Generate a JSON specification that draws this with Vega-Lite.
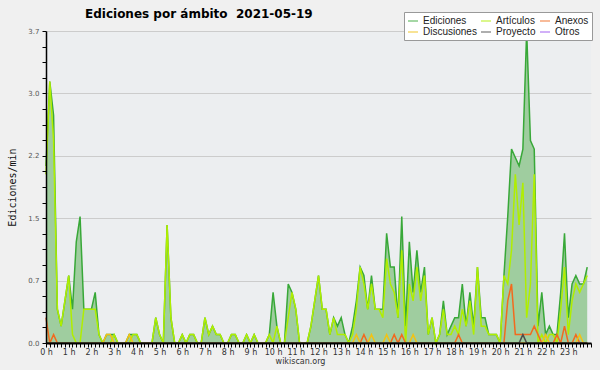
{
  "$schema": "https://vega.github.io/schema/vega-lite/v6.json",
  "width": 545,
  "height": 312,
  "autosize": {"type": "none"},
  "padding": {"left": 46, "top": 31, "right": 9, "bottom": 27},
  "background": "#f0f0f0",
  "title": {"text": "Ediciones por ámbito\u00a0 2021-05-19", "anchor": "start", "frame": "group", "dx": 39, "offset": -9, "font": "DejaVu Sans", "fontSize": 12, "fontWeight": "bold", "color": "#000000"},
  "data": {"values": [
    {"t":0,"Ediciones":2.1,"Artículos":2.0,"Anexos":0.3,"Discusiones":0,"Proyecto":0,"Otros":0},
    {"t":10,"Ediciones":3.1,"Artículos":3.1,"Anexos":0,"Discusiones":0,"Proyecto":0,"Otros":0},
    {"t":20,"Ediciones":2.7,"Artículos":2.4,"Anexos":0.1,"Discusiones":0,"Proyecto":0,"Otros":0},
    {"t":30,"Ediciones":0.4,"Artículos":0.4,"Anexos":0,"Discusiones":0,"Proyecto":0,"Otros":0},
    {"t":40,"Ediciones":0.2,"Artículos":0.2,"Anexos":0,"Discusiones":0,"Proyecto":0,"Otros":0},
    {"t":50,"Ediciones":0.5,"Artículos":0.5,"Anexos":0,"Discusiones":0,"Proyecto":0,"Otros":0},
    {"t":60,"Ediciones":0.8,"Artículos":0.8,"Anexos":0,"Discusiones":0,"Proyecto":0,"Otros":0},
    {"t":70,"Ediciones":0.4,"Artículos":0.1,"Anexos":0,"Discusiones":0,"Proyecto":0,"Otros":0},
    {"t":80,"Ediciones":1.2,"Artículos":0,"Anexos":0,"Discusiones":0,"Proyecto":0,"Otros":0},
    {"t":90,"Ediciones":1.5,"Artículos":0,"Anexos":0,"Discusiones":0,"Proyecto":0,"Otros":0},
    {"t":100,"Ediciones":0.4,"Artículos":0.4,"Anexos":0,"Discusiones":0,"Proyecto":0,"Otros":0},
    {"t":110,"Ediciones":0.4,"Artículos":0.4,"Anexos":0,"Discusiones":0,"Proyecto":0,"Otros":0},
    {"t":120,"Ediciones":0.4,"Artículos":0.4,"Anexos":0,"Discusiones":0,"Proyecto":0,"Otros":0},
    {"t":130,"Ediciones":0.6,"Artículos":0.4,"Anexos":0,"Discusiones":0,"Proyecto":0,"Otros":0},
    {"t":140,"Ediciones":0.1,"Artículos":0.1,"Anexos":0,"Discusiones":0,"Proyecto":0,"Otros":0},
    {"t":150,"Ediciones":0,"Artículos":0,"Anexos":0,"Discusiones":0,"Proyecto":0,"Otros":0},
    {"t":160,"Ediciones":0.1,"Artículos":0,"Anexos":0,"Discusiones":0.1,"Proyecto":0,"Otros":0},
    {"t":170,"Ediciones":0.1,"Artículos":0,"Anexos":0,"Discusiones":0.1,"Proyecto":0,"Otros":0},
    {"t":180,"Ediciones":0.1,"Artículos":0.1,"Anexos":0,"Discusiones":0,"Proyecto":0,"Otros":0},
    {"t":190,"Ediciones":0,"Artículos":0,"Anexos":0,"Discusiones":0,"Proyecto":0,"Otros":0},
    {"t":200,"Ediciones":0,"Artículos":0,"Anexos":0,"Discusiones":0,"Proyecto":0,"Otros":0},
    {"t":210,"Ediciones":0,"Artículos":0,"Anexos":0,"Discusiones":0,"Proyecto":0,"Otros":0},
    {"t":220,"Ediciones":0.1,"Artículos":0,"Anexos":0,"Discusiones":0.1,"Proyecto":0,"Otros":0},
    {"t":230,"Ediciones":0.1,"Artículos":0.1,"Anexos":0,"Discusiones":0,"Proyecto":0,"Otros":0},
    {"t":240,"Ediciones":0.1,"Artículos":0.1,"Anexos":0,"Discusiones":0,"Proyecto":0,"Otros":0},
    {"t":250,"Ediciones":0,"Artículos":0,"Anexos":0,"Discusiones":0,"Proyecto":0,"Otros":0},
    {"t":260,"Ediciones":0,"Artículos":0,"Anexos":0,"Discusiones":0,"Proyecto":0,"Otros":0},
    {"t":270,"Ediciones":0,"Artículos":0,"Anexos":0,"Discusiones":0,"Proyecto":0,"Otros":0},
    {"t":280,"Ediciones":0,"Artículos":0,"Anexos":0,"Discusiones":0,"Proyecto":0,"Otros":0},
    {"t":290,"Ediciones":0.3,"Artículos":0.3,"Anexos":0,"Discusiones":0,"Proyecto":0,"Otros":0},
    {"t":300,"Ediciones":0.1,"Artículos":0.1,"Anexos":0,"Discusiones":0,"Proyecto":0,"Otros":0},
    {"t":310,"Ediciones":0,"Artículos":0,"Anexos":0,"Discusiones":0,"Proyecto":0,"Otros":0},
    {"t":320,"Ediciones":1.4,"Artículos":1.4,"Anexos":0,"Discusiones":0,"Proyecto":0,"Otros":0},
    {"t":330,"Ediciones":0.3,"Artículos":0.3,"Anexos":0,"Discusiones":0,"Proyecto":0,"Otros":0},
    {"t":340,"Ediciones":0,"Artículos":0,"Anexos":0,"Discusiones":0,"Proyecto":0,"Otros":0},
    {"t":350,"Ediciones":0,"Artículos":0,"Anexos":0,"Discusiones":0,"Proyecto":0,"Otros":0},
    {"t":360,"Ediciones":0.1,"Artículos":0.1,"Anexos":0,"Discusiones":0,"Proyecto":0,"Otros":0},
    {"t":370,"Ediciones":0,"Artículos":0,"Anexos":0,"Discusiones":0,"Proyecto":0,"Otros":0},
    {"t":380,"Ediciones":0.1,"Artículos":0.1,"Anexos":0,"Discusiones":0,"Proyecto":0,"Otros":0},
    {"t":390,"Ediciones":0.1,"Artículos":0.1,"Anexos":0,"Discusiones":0,"Proyecto":0,"Otros":0},
    {"t":400,"Ediciones":0,"Artículos":0,"Anexos":0,"Discusiones":0,"Proyecto":0,"Otros":0},
    {"t":410,"Ediciones":0,"Artículos":0,"Anexos":0,"Discusiones":0,"Proyecto":0,"Otros":0},
    {"t":420,"Ediciones":0.3,"Artículos":0.3,"Anexos":0,"Discusiones":0,"Proyecto":0,"Otros":0},
    {"t":430,"Ediciones":0.1,"Artículos":0.1,"Anexos":0,"Discusiones":0,"Proyecto":0,"Otros":0},
    {"t":440,"Ediciones":0.2,"Artículos":0.2,"Anexos":0,"Discusiones":0,"Proyecto":0,"Otros":0},
    {"t":450,"Ediciones":0.1,"Artículos":0.1,"Anexos":0,"Discusiones":0,"Proyecto":0,"Otros":0},
    {"t":460,"Ediciones":0.1,"Artículos":0.1,"Anexos":0,"Discusiones":0,"Proyecto":0,"Otros":0},
    {"t":470,"Ediciones":0,"Artículos":0,"Anexos":0,"Discusiones":0,"Proyecto":0,"Otros":0},
    {"t":480,"Ediciones":0,"Artículos":0,"Anexos":0,"Discusiones":0,"Proyecto":0,"Otros":0},
    {"t":490,"Ediciones":0.1,"Artículos":0.1,"Anexos":0,"Discusiones":0,"Proyecto":0,"Otros":0},
    {"t":500,"Ediciones":0.1,"Artículos":0.1,"Anexos":0,"Discusiones":0,"Proyecto":0,"Otros":0},
    {"t":510,"Ediciones":0,"Artículos":0,"Anexos":0,"Discusiones":0,"Proyecto":0,"Otros":0},
    {"t":520,"Ediciones":0,"Artículos":0,"Anexos":0,"Discusiones":0,"Proyecto":0,"Otros":0},
    {"t":530,"Ediciones":0.1,"Artículos":0.1,"Anexos":0,"Discusiones":0,"Proyecto":0,"Otros":0},
    {"t":540,"Ediciones":0,"Artículos":0,"Anexos":0,"Discusiones":0,"Proyecto":0,"Otros":0},
    {"t":550,"Ediciones":0.1,"Artículos":0.1,"Anexos":0,"Discusiones":0,"Proyecto":0,"Otros":0},
    {"t":560,"Ediciones":0,"Artículos":0,"Anexos":0,"Discusiones":0,"Proyecto":0,"Otros":0},
    {"t":570,"Ediciones":0,"Artículos":0,"Anexos":0,"Discusiones":0,"Proyecto":0,"Otros":0},
    {"t":580,"Ediciones":0,"Artículos":0,"Anexos":0,"Discusiones":0,"Proyecto":0,"Otros":0},
    {"t":590,"Ediciones":0.1,"Artículos":0.1,"Anexos":0,"Discusiones":0,"Proyecto":0,"Otros":0},
    {"t":600,"Ediciones":0.6,"Artículos":0,"Anexos":0,"Discusiones":0,"Proyecto":0,"Otros":0},
    {"t":610,"Ediciones":0.2,"Artículos":0.2,"Anexos":0,"Discusiones":0,"Proyecto":0,"Otros":0},
    {"t":620,"Ediciones":0,"Artículos":0,"Anexos":0,"Discusiones":0,"Proyecto":0,"Otros":0},
    {"t":630,"Ediciones":0,"Artículos":0,"Anexos":0,"Discusiones":0,"Proyecto":0,"Otros":0},
    {"t":640,"Ediciones":0.7,"Artículos":0.3,"Anexos":0,"Discusiones":0,"Proyecto":0,"Otros":0},
    {"t":650,"Ediciones":0.6,"Artículos":0.6,"Anexos":0,"Discusiones":0,"Proyecto":0,"Otros":0},
    {"t":660,"Ediciones":0.4,"Artículos":0.4,"Anexos":0,"Discusiones":0,"Proyecto":0,"Otros":0},
    {"t":670,"Ediciones":0,"Artículos":0,"Anexos":0,"Discusiones":0,"Proyecto":0,"Otros":0},
    {"t":680,"Ediciones":0,"Artículos":0,"Anexos":0,"Discusiones":0,"Proyecto":0,"Otros":0},
    {"t":690,"Ediciones":0,"Artículos":0,"Anexos":0,"Discusiones":0,"Proyecto":0,"Otros":0},
    {"t":700,"Ediciones":0.2,"Artículos":0.2,"Anexos":0,"Discusiones":0,"Proyecto":0,"Otros":0},
    {"t":710,"Ediciones":0.5,"Artículos":0.5,"Anexos":0,"Discusiones":0,"Proyecto":0,"Otros":0},
    {"t":720,"Ediciones":0.8,"Artículos":0.8,"Anexos":0,"Discusiones":0,"Proyecto":0,"Otros":0},
    {"t":730,"Ediciones":0.4,"Artículos":0.4,"Anexos":0,"Discusiones":0,"Proyecto":0,"Otros":0},
    {"t":740,"Ediciones":0.4,"Artículos":0.4,"Anexos":0,"Discusiones":0,"Proyecto":0,"Otros":0},
    {"t":750,"Ediciones":0.1,"Artículos":0.1,"Anexos":0,"Discusiones":0,"Proyecto":0,"Otros":0},
    {"t":760,"Ediciones":0.3,"Artículos":0.3,"Anexos":0,"Discusiones":0,"Proyecto":0,"Otros":0},
    {"t":770,"Ediciones":0.2,"Artículos":0.1,"Anexos":0,"Discusiones":0,"Proyecto":0,"Otros":0},
    {"t":780,"Ediciones":0.3,"Artículos":0.1,"Anexos":0,"Discusiones":0,"Proyecto":0,"Otros":0},
    {"t":790,"Ediciones":0.1,"Artículos":0.1,"Anexos":0,"Discusiones":0,"Proyecto":0,"Otros":0},
    {"t":800,"Ediciones":0,"Artículos":0,"Anexos":0,"Discusiones":0,"Proyecto":0,"Otros":0},
    {"t":810,"Ediciones":0.2,"Artículos":0.1,"Anexos":0,"Discusiones":0,"Proyecto":0,"Otros":0},
    {"t":820,"Ediciones":0.5,"Artículos":0.4,"Anexos":0,"Discusiones":0.1,"Proyecto":0,"Otros":0},
    {"t":830,"Ediciones":0.9,"Artículos":0.9,"Anexos":0,"Discusiones":0,"Proyecto":0,"Otros":0},
    {"t":840,"Ediciones":0.8,"Artículos":0.7,"Anexos":0.1,"Discusiones":0,"Proyecto":0,"Otros":0},
    {"t":850,"Ediciones":0.4,"Artículos":0.4,"Anexos":0,"Discusiones":0,"Proyecto":0,"Otros":0},
    {"t":860,"Ediciones":0.8,"Artículos":0.7,"Anexos":0,"Discusiones":0.1,"Proyecto":0,"Otros":0},
    {"t":870,"Ediciones":0.4,"Artículos":0.4,"Anexos":0,"Discusiones":0,"Proyecto":0,"Otros":0},
    {"t":880,"Ediciones":0.4,"Artículos":0.4,"Anexos":0,"Discusiones":0,"Proyecto":0,"Otros":0},
    {"t":890,"Ediciones":0.4,"Artículos":0.3,"Anexos":0,"Discusiones":0,"Proyecto":0,"Otros":0},
    {"t":900,"Ediciones":1.3,"Artículos":1.0,"Anexos":0,"Discusiones":0.1,"Proyecto":0,"Otros":0},
    {"t":910,"Ediciones":0.9,"Artículos":0.7,"Anexos":0,"Discusiones":0,"Proyecto":0,"Otros":0},
    {"t":920,"Ediciones":0.9,"Artículos":0.6,"Anexos":0.1,"Discusiones":0,"Proyecto":0,"Otros":0},
    {"t":930,"Ediciones":0.3,"Artículos":0.3,"Anexos":0,"Discusiones":0,"Proyecto":0,"Otros":0},
    {"t":940,"Ediciones":1.5,"Artículos":1.1,"Anexos":0.1,"Discusiones":0,"Proyecto":0,"Otros":0},
    {"t":950,"Ediciones":0.2,"Artículos":0,"Anexos":0,"Discusiones":0,"Proyecto":0,"Otros":0},
    {"t":960,"Ediciones":1.2,"Artículos":0.7,"Anexos":0,"Discusiones":0,"Proyecto":0,"Otros":0},
    {"t":970,"Ediciones":0.6,"Artículos":0.5,"Anexos":0,"Discusiones":0.1,"Proyecto":0,"Otros":0},
    {"t":980,"Ediciones":1.1,"Artículos":0.9,"Anexos":0,"Discusiones":0,"Proyecto":0,"Otros":0},
    {"t":990,"Ediciones":0.6,"Artículos":0.5,"Anexos":0,"Discusiones":0,"Proyecto":0,"Otros":0},
    {"t":1000,"Ediciones":0.9,"Artículos":0.8,"Anexos":0,"Discusiones":0,"Proyecto":0,"Otros":0},
    {"t":1010,"Ediciones":0.1,"Artículos":0.1,"Anexos":0,"Discusiones":0,"Proyecto":0,"Otros":0},
    {"t":1020,"Ediciones":0.3,"Artículos":0.3,"Anexos":0,"Discusiones":0,"Proyecto":0,"Otros":0},
    {"t":1030,"Ediciones":0,"Artículos":0,"Anexos":0,"Discusiones":0,"Proyecto":0,"Otros":0},
    {"t":1040,"Ediciones":0.1,"Artículos":0.1,"Anexos":0,"Discusiones":0,"Proyecto":0,"Otros":0},
    {"t":1050,"Ediciones":0.5,"Artículos":0.4,"Anexos":0,"Discusiones":0,"Proyecto":0,"Otros":0},
    {"t":1060,"Ediciones":0.1,"Artículos":0.1,"Anexos":0,"Discusiones":0,"Proyecto":0,"Otros":0},
    {"t":1070,"Ediciones":0.2,"Artículos":0.1,"Anexos":0,"Discusiones":0,"Proyecto":0,"Otros":0},
    {"t":1080,"Ediciones":0.3,"Artículos":0.2,"Anexos":0,"Discusiones":0,"Proyecto":0,"Otros":0},
    {"t":1090,"Ediciones":0.3,"Artículos":0.1,"Anexos":0.1,"Discusiones":0,"Proyecto":0,"Otros":0},
    {"t":1100,"Ediciones":0.7,"Artículos":0.4,"Anexos":0,"Discusiones":0,"Proyecto":0,"Otros":0},
    {"t":1110,"Ediciones":0.2,"Artículos":0.2,"Anexos":0,"Discusiones":0,"Proyecto":0,"Otros":0},
    {"t":1120,"Ediciones":0.6,"Artículos":0.5,"Anexos":0,"Discusiones":0,"Proyecto":0,"Otros":0},
    {"t":1130,"Ediciones":0.2,"Artículos":0.1,"Anexos":0,"Discusiones":0,"Proyecto":0,"Otros":0},
    {"t":1140,"Ediciones":0.9,"Artículos":0.9,"Anexos":0,"Discusiones":0,"Proyecto":0,"Otros":0},
    {"t":1150,"Ediciones":0.3,"Artículos":0.2,"Anexos":0,"Discusiones":0,"Proyecto":0,"Otros":0},
    {"t":1160,"Ediciones":0.3,"Artículos":0.2,"Anexos":0,"Discusiones":0,"Proyecto":0,"Otros":0},
    {"t":1170,"Ediciones":0.1,"Artículos":0.1,"Anexos":0,"Discusiones":0,"Proyecto":0,"Otros":0},
    {"t":1180,"Ediciones":0.1,"Artículos":0.1,"Anexos":0,"Discusiones":0,"Proyecto":0,"Otros":0},
    {"t":1190,"Ediciones":0.1,"Artículos":0.1,"Anexos":0,"Discusiones":0,"Proyecto":0,"Otros":0},
    {"t":1200,"Ediciones":0,"Artículos":0,"Anexos":0,"Discusiones":0,"Proyecto":0,"Otros":0},
    {"t":1210,"Ediciones":0.8,"Artículos":0.8,"Anexos":0,"Discusiones":0,"Proyecto":0,"Otros":0},
    {"t":1220,"Ediciones":1.5,"Artículos":0.7,"Anexos":0.5,"Discusiones":0,"Proyecto":0,"Otros":0},
    {"t":1230,"Ediciones":2.3,"Artículos":1.1,"Anexos":0.7,"Discusiones":0,"Proyecto":0,"Otros":0},
    {"t":1240,"Ediciones":2.2,"Artículos":2.0,"Anexos":0.1,"Discusiones":0,"Proyecto":0,"Otros":0},
    {"t":1250,"Ediciones":2.1,"Artículos":1.4,"Anexos":0.1,"Discusiones":0,"Proyecto":0,"Otros":0},
    {"t":1260,"Ediciones":2.3,"Artículos":1.9,"Anexos":0.1,"Discusiones":0,"Proyecto":0.1,"Otros":0},
    {"t":1270,"Ediciones":3.7,"Artículos":0.3,"Anexos":0.1,"Discusiones":0,"Proyecto":0,"Otros":0},
    {"t":1280,"Ediciones":2.4,"Artículos":0.7,"Anexos":0.1,"Discusiones":0,"Proyecto":0,"Otros":0},
    {"t":1290,"Ediciones":2.3,"Artículos":2.0,"Anexos":0.2,"Discusiones":0,"Proyecto":0,"Otros":0},
    {"t":1300,"Ediciones":0.2,"Artículos":0,"Anexos":0.1,"Discusiones":0,"Proyecto":0,"Otros":0},
    {"t":1310,"Ediciones":0.6,"Artículos":0.1,"Anexos":0,"Discusiones":0,"Proyecto":0,"Otros":0},
    {"t":1320,"Ediciones":0.1,"Artículos":0,"Anexos":0,"Discusiones":0.1,"Proyecto":0,"Otros":0},
    {"t":1330,"Ediciones":0.2,"Artículos":0.1,"Anexos":0,"Discusiones":0,"Proyecto":0,"Otros":0},
    {"t":1340,"Ediciones":0.1,"Artículos":0.1,"Anexos":0,"Discusiones":0,"Proyecto":0,"Otros":0},
    {"t":1350,"Ediciones":0.1,"Artículos":0,"Anexos":0.1,"Discusiones":0,"Proyecto":0,"Otros":0},
    {"t":1360,"Ediciones":0.6,"Artículos":0.4,"Anexos":0,"Discusiones":0,"Proyecto":0,"Otros":0},
    {"t":1370,"Ediciones":1.3,"Artículos":0.9,"Anexos":0.2,"Discusiones":0,"Proyecto":0,"Otros":0},
    {"t":1380,"Ediciones":0.3,"Artículos":0.1,"Anexos":0,"Discusiones":0,"Proyecto":0,"Otros":0},
    {"t":1390,"Ediciones":0.7,"Artículos":0.5,"Anexos":0,"Discusiones":0,"Proyecto":0,"Otros":0},
    {"t":1400,"Ediciones":0.8,"Artículos":0.7,"Anexos":0.1,"Discusiones":0,"Proyecto":0,"Otros":0},
    {"t":1410,"Ediciones":0.7,"Artículos":0.6,"Anexos":0,"Discusiones":0.1,"Proyecto":0,"Otros":0},
    {"t":1420,"Ediciones":0.7,"Artículos":0.7,"Anexos":0,"Discusiones":0,"Proyecto":0,"Otros":0},
    {"t":1430,"Ediciones":0.9,"Artículos":0.8,"Anexos":0,"Discusiones":0,"Proyecto":0,"Otros":0}
  ]},
  "transform": [{"fold": ["Otros", "Ediciones", "Artículos", "Anexos", "Discusiones", "Proyecto"], "as": ["serie", "v"]}],
  "encoding": {
    "x": {
      "field": "t", "type": "quantitative",
      "scale": {"domain": [0, 1440], "nice": false, "zero": false},
      "axis": {
        "values": [0,10,20,30,40,50,60,70,80,90,100,110,120,130,140,150,160,170,180,190,200,210,220,230,240,250,260,270,280,290,300,310,320,330,340,350,360,370,380,390,400,410,420,430,440,450,460,470,480,490,500,510,520,530,540,550,560,570,580,590,600,610,620,630,640,650,660,670,680,690,700,710,720,730,740,750,760,770,780,790,800,810,820,830,840,850,860,870,880,890,900,910,920,930,940,950,960,970,980,990,1000,1010,1020,1030,1040,1050,1060,1070,1080,1090,1100,1110,1120,1130,1140,1150,1160,1170,1180,1190,1200,1210,1220,1230,1240,1250,1260,1270,1280,1290,1300,1310,1320,1330,1340,1350,1360,1370,1380,1390,1400,1410,1420,1430,1440],
        "labelExpr": "datum.value % 60 === 0 && datum.value < 1440 ? (datum.value / 60) + ' h' : ''",
        "labelAngle": 0, "labelOverlap": false, "labelFlush": false, "labelBound": false,
        "labelFont": "DejaVu Sans", "labelFontSize": 8, "labelColor": "#333333", "labelPadding": 1,
        "tickSize": 4, "tickColor": "#000000", "tickWidth": 1,
        "domainColor": "#000000", "domainWidth": 2,
        "grid": false,
        "title": "wikiscan.org", "titleFont": "DejaVu Sans", "titleFontSize": 8, "titleFontWeight": "normal", "titleColor": "#333333",
        "titleX": 254, "titleY": 20, "titleBaseline": "alphabetic", "titleAnchor": "middle",
        "zindex": 1
      }
    }
  },
  "layer": [
    {
      "transform": [{"filter": "datum.serie === 'Ediciones'"}],
      "mark": {"type": "area", "color": "#9fcd9f", "opacity": 1},
      "encoding": {
        "y": {
          "field": "v", "type": "quantitative",
          "scale": {"domain": [0, 3.7], "nice": false},
          "axis": {
            "orient": "left",
            "values": [0, 0.74, 1.48, 2.22, 2.96, 3.7],
            "grid": true, "gridColor": "#cccccc", "gridWidth": 1,
            "domain": false, "ticks": false, "labels": false, "title": null,
            "zindex": 0
          }
        }
      }
    },
    {
      "mark": {"type": "line", "strokeWidth": 1.5},
      "encoding": {
        "y": {
          "field": "v", "type": "quantitative",
          "scale": {"domain": [0, 3.7], "nice": false},
          "axis": {
            "orient": "left",
            "values": [0, 0.185, 0.37, 0.555, 0.74, 0.925, 1.11, 1.295, 1.48, 1.665, 1.85, 2.035, 2.22, 2.405, 2.59, 2.775, 2.96, 3.145, 3.33, 3.515, 3.7],
            "labelExpr": "abs(datum.value / 0.74 - round(datum.value / 0.74)) < 0.01 ? format(datum.value, '.1f') : ''",
            "labelFont": "DejaVu Sans", "labelFontSize": 7, "labelColor": "#555555", "labelPadding": 3, "labelOverlap": false, "labelBound": false, "labelFlush": false,
            "tickSize": 4, "tickColor": "#000000",
            "domainColor": "#000000", "domainWidth": 1.5,
            "grid": false,
            "title": "Ediciones/min", "titleFont": "DejaVu Sans Mono", "titleFontSize": 10, "titleFontWeight": "normal", "titleColor": "#111111", "titlePadding": 10,
            "zindex": 1
          }
        },
        "color": {
          "field": "serie", "type": "nominal",
          "scale": {"domain": ["Ediciones", "Artículos", "Anexos", "Discusiones", "Proyecto", "Otros"], "range": ["#38a838", "#b0ee00", "#f26a1e", "#f2c214", "#4d4d4d", "#9a50f0"]},
          "legend": {
            "orient": "none", "legendX": 358, "legendY": -19, "columns": 3, "direction": "horizontal", "title": null, "zindex": 3,
            "symbolType": "stroke", "symbolSize": 100, "symbolStrokeWidth": 1.5, "symbolOpacity": 0.6,
            "labelFont": "Liberation Sans", "labelFontSize": 10, "labelColor": "#222222", "labelOffset": 4,
            "fillColor": "#ffffff", "strokeColor": "#999999", "padding": 3, "rowPadding": 0, "columnPadding": 1
          }
        }
      }
    },
    {
      "data": {"values": [{}]},
      "mark": {"type": "text", "align": "right", "baseline": "alphabetic", "dy": 21, "font": "DejaVu Sans", "fontSize": 6, "color": "#333333"},
      "encoding": {
        "x": {"datum": 1440},
        "y": {"datum": 0, "axis": null},
        "text": {"value": "CC BY-SA 3.0"}
      }
    }
  ],
  "resolve": {"axis": {"y": "independent"}},
  "config": {
    "view": {"fill": "#eceef0", "stroke": null}
  }
}
